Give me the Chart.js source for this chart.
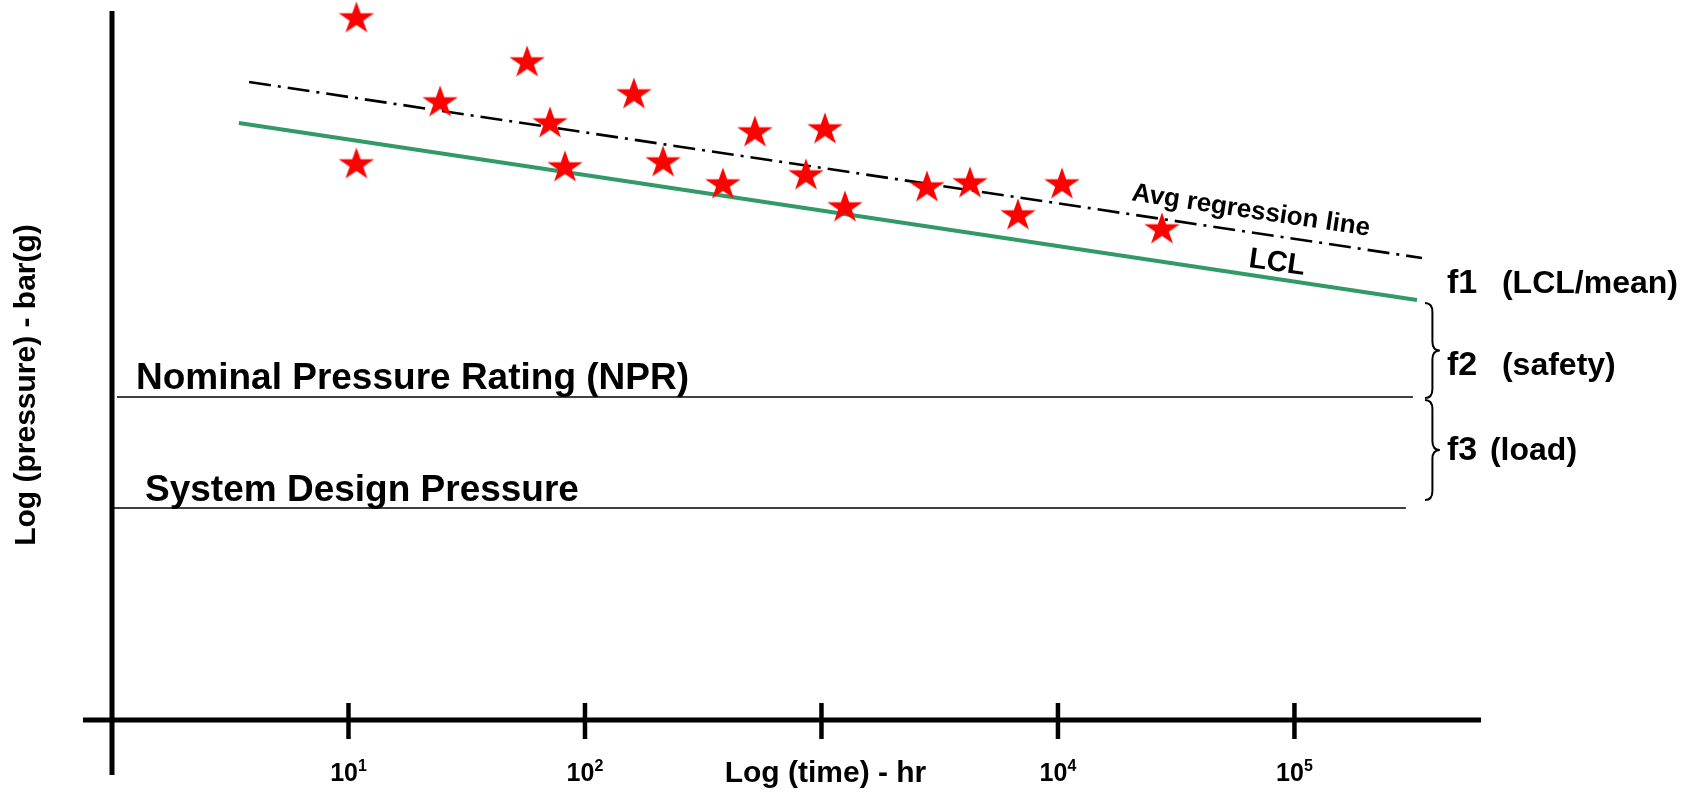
<!DOCTYPE html>
<html>
<head>
<meta charset="utf-8">
<title>Pressure rating vs time</title>
<script src="https://cdn.jsdelivr.net/npm/chart.js@4.4.1/dist/chart.umd.min.js"></script>
<style>
  html, body { margin: 0; padding: 0; background: #fff; }
</style>
</head>
<body>
<canvas id="chart" width="1685" height="793"></canvas>
<script>
// test results: time to failure (hours) and log pressure (arbitrary units)
const testHours = [10.8, 10.8, 24.4, 56.9, 71.1, 82.3, 161, 214, 383, 523, 860, 1035, 1257, 2794, 4245, 6774, 10397, 27530];
const testPressure = [7.03, 5.57, 6.19, 6.59, 5.98, 5.54, 6.27, 5.59, 5.37, 5.89, 5.46, 5.92, 5.14, 5.34, 5.38, 5.06, 5.37, 4.92];

// straight lines (two end points each)
const avgLineHours = [3.8, 346000];
const avgLinePressure = [6.38, 4.62];
const lclLineHours = [3.44, 329600];
const lclLinePressure = [5.97, 4.20];
const nprHours = [1.05, 317000];
const nprPressure = [3.23, 3.23];
const sdpHours = [1.01, 296000];
const sdpPressure = [2.12, 2.12];

// x axis ticks ("base^exponent"), the 10^3 slot carries the axis title
const tickValues = [10, 100, 1000, 10000, 100000];
const tickLabels = ['10^1', '10^2', '', '10^4', '10^5'];
const xTitle = 'Log (time) - hr';
const yTitle = 'Log (pressure) - bar(g)';

const pts = (xs, ys) => xs.map((x, i) => ({x: x, y: ys[i]}));

const FONT = '"Liberation Sans", Arial, Helvetica, sans-serif';

// filled five point star used as the marker
function makeStar(r, sx) {
  const c = document.createElement('canvas');
  const w = Math.ceil(2 * r * 0.951 * sx) + 2;
  const h = Math.ceil(r * 1.809) + 2;
  c.width = w; c.height = h;
  const g = c.getContext('2d');
  g.translate(w / 2, h / 2 + 0.0955 * r);
  g.scale(sx, 1);
  g.beginPath();
  for (let i = 0; i < 10; i++) {
    const rad = i % 2 ? r * 0.382 : r;
    const a = -Math.PI / 2 + i * Math.PI / 5;
    g.lineTo(rad * Math.cos(a), rad * Math.sin(a));
  }
  g.closePath();
  g.fillStyle = '#ff0000';
  g.fill();
  return c;
}
const star = makeStar(17, 1.1);

// text labels placed in data coordinates
const notes = [
  {text: 'Nominal Pressure Rating (NPR)', x: 1.263, y: 3.31, size: 37},
  {text: 'System Design Pressure', x: 1.379, y: 2.19, size: 37},
  {text: 'Avg regression line', x: 65460, y: 5.09, size: 26, align: 'center', base: 'middle', rot: 8.5},
  {text: 'LCL', x: 84330, y: 4.57, size: 29, align: 'center', base: 'middle', rot: 8},
  {text: 'f1', x: 441600, y: 4.27, size: 34},
  {text: '(LCL/mean)', x: 754000, y: 4.27, size: 32},
  {text: 'f2', x: 441600, y: 3.45, size: 34},
  {text: '(safety)', x: 754000, y: 3.45, size: 32},
  {text: 'f3', x: 441600, y: 2.60, size: 34},
  {text: '(load)', x: 671000, y: 2.60, size: 32}
];
const braces = [
  {x: 356400, tip: 412000, top: 4.17, bottom: 3.22},
  {x: 356400, tip: 412000, top: 3.20, bottom: 2.20}
];

const drawing = {
  id: 'drawing',
  afterDatasetsDraw(chart) {
    const {ctx, chartArea, scales: {x, y}} = chart;
    const x0 = chartArea.left;
    const y0 = y.getPixelForValue(0);
    ctx.save();
    ctx.strokeStyle = '#000';
    ctx.fillStyle = '#000';
    // crossed axes
    ctx.lineWidth = 5;
    ctx.beginPath();
    ctx.moveTo(x0, chartArea.top);
    ctx.lineTo(x0, y0 + 55);
    ctx.stroke();
    ctx.beginPath();
    ctx.moveTo(x0 - 29, y0);
    ctx.lineTo(chartArea.right, y0);
    ctx.stroke();
    ctx.lineWidth = 4.5;
    tickValues.forEach(v => {
      const px = x.getPixelForValue(v);
      ctx.beginPath();
      ctx.moveTo(px, y0 - 17);
      ctx.lineTo(px, y0 + 19);
      ctx.stroke();
    });

    // tick labels with raised exponents, and the x title in the 10^3 slot
    const base = y0 + 61;
    ctx.textBaseline = 'alphabetic';
    ctx.textAlign = 'left';
    tickValues.forEach((v, i) => {
      const px = x.getPixelForValue(v);
      if (!tickLabels[i]) {
        ctx.font = 'bold 30px ' + FONT;
        ctx.textAlign = 'center';
        ctx.fillText(xTitle, px + 4, base + 1);
        ctx.textAlign = 'left';
        return;
      }
      const [b, e] = tickLabels[i].split('^');
      ctx.font = 'bold 25px ' + FONT;
      const wb = ctx.measureText(b).width;
      ctx.font = 'bold 16px ' + FONT;
      const we = ctx.measureText(e).width;
      const left = px - (wb + we) / 2;
      ctx.font = 'bold 25px ' + FONT;
      ctx.fillText(b, left, base);
      ctx.font = 'bold 16px ' + FONT;
      ctx.fillText(e, left + wb, base - 10);
    });

    // y title
    ctx.save();
    ctx.translate(x0 - 85, y.getPixelForValue(3.35));
    ctx.rotate(-Math.PI / 2);
    ctx.font = 'bold 30px ' + FONT;
    ctx.textAlign = 'center';
    ctx.textBaseline = 'middle';
    ctx.fillText(yTitle, 0, 0);
    ctx.restore();

    // notes
    notes.forEach(n => {
      ctx.save();
      ctx.translate(x.getPixelForValue(n.x), y.getPixelForValue(n.y));
      if (n.rot) ctx.rotate(n.rot * Math.PI / 180);
      ctx.font = 'bold ' + n.size + 'px ' + FONT;
      ctx.textAlign = n.align || 'left';
      ctx.textBaseline = n.base || 'alphabetic';
      ctx.fillText(n.text, 0, 0);
      ctx.restore();
    });

    // curly braces
    ctx.lineWidth = 2;
    braces.forEach(b => {
      const bx = x.getPixelForValue(b.x);
      const tx = x.getPixelForValue(b.tip);
      const yt = y.getPixelForValue(b.top);
      const yb = y.getPixelForValue(b.bottom);
      const ym = (yt + yb) / 2;
      const mx = (bx + tx) / 2;
      const r = 9;
      ctx.beginPath();
      ctx.moveTo(bx, yt);
      ctx.quadraticCurveTo(mx, yt, mx, yt + r);
      ctx.lineTo(mx, ym - r);
      ctx.quadraticCurveTo(mx, ym, tx, ym);
      ctx.quadraticCurveTo(mx, ym, mx, ym + r);
      ctx.lineTo(mx, yb - r);
      ctx.quadraticCurveTo(mx, yb, bx, yb);
      ctx.stroke();
    });
    ctx.restore();
  }
};

new Chart(document.getElementById('chart'), {
  type: 'scatter',
  data: {
    datasets: [
      {
        label: 'Tests',
        data: pts(testHours, testPressure),
        pointStyle: star,
        clip: false
      },
      {
        label: 'Avg regression line',
        data: pts(avgLineHours, avgLinePressure),
        showLine: true,
        borderColor: '#000',
        borderWidth: 2.6,
        borderDash: [22, 7, 3, 7],
        pointRadius: 0
      },
      {
        label: 'LCL',
        data: pts(lclLineHours, lclLinePressure),
        showLine: true,
        borderColor: '#339966',
        borderWidth: 3.8,
        pointRadius: 0
      },
      {
        label: 'NPR',
        data: pts(nprHours, nprPressure),
        showLine: true,
        borderColor: '#000',
        borderWidth: 1.6,
        pointRadius: 0
      },
      {
        label: 'System Design Pressure',
        data: pts(sdpHours, sdpPressure),
        showLine: true,
        borderColor: '#000',
        borderWidth: 1.6,
        pointRadius: 0
      }
    ]
  },
  options: {
    responsive: false,
    animation: false,
    devicePixelRatio: 1,
    events: [],
    layout: {padding: {top: 11, left: 112, right: 204, bottom: 0}},
    plugins: {legend: {display: false}, tooltip: {enabled: false}},
    scales: {
      x: {
        type: 'logarithmic',
        min: 1,
        max: 615000,
        grid: {display: false, drawTicks: false},
        border: {display: false},
        afterBuildTicks: s => { s.ticks = tickValues.map(v => ({value: v})); },
        afterFit: s => { s.height = 73; },
        ticks: {display: false}
      },
      y: {
        display: false,
        min: 0,
        max: 7.09
      }
    }
  },
  plugins: [drawing]
});
</script>
</body>
</html>
